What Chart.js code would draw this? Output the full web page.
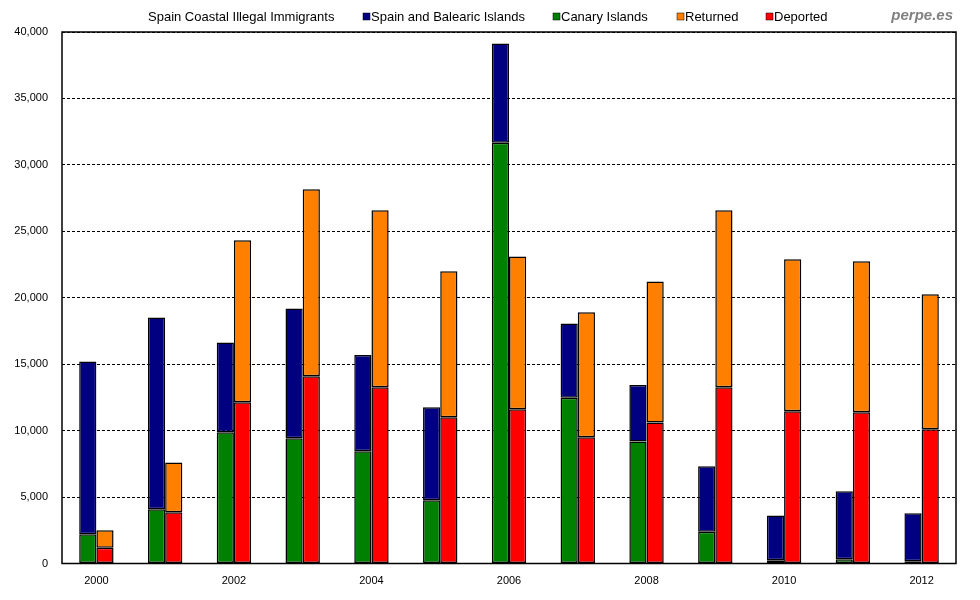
<!DOCTYPE html>
<html>
<head>
<meta charset="utf-8">
<script src="https://cdn.jsdelivr.net/npm/chart.js@4.4.1/dist/chart.umd.min.js"></script>
<style>
  html, body { margin: 0; padding: 0; background: #fff; }
  #wrap { width: 980px; height: 600px; position: relative; }
</style>
</head>
<body>
<div id="wrap"><canvas id="c" width="980" height="600"></canvas></div>
<script>
// ---- Data ----
const years = ['2000','2001','2002','2003','2004','2005','2006','2007','2008','2009','2010','2011','2012'];
const canaryIslands = [2200, 4080, 9870, 9420, 8440, 4760, 31660, 12480, 9190, 2390, 240, 320, 170];
const spainBalearic = [13000, 14440, 6770, 9780, 7250, 6990, 7480, 5590, 4240, 4920, 3380, 5110, 3610];
const deported = [1180, 3850, 12130, 14090, 13260, 11000, 11600, 9500, 10620, 13260, 11450, 11380, 10100];
const returned = [1320, 3760, 12190, 14070, 13320, 10990, 11510, 9400, 10610, 13320, 11440, 11360, 10160];
const yTicks = [0, 5000, 10000, 15000, 20000, 25000, 30000, 35000, 40000];
const chartTitle = 'Spain Coastal Illegal Immigrants';
const watermark = 'perpe.es';

const NAVY = '#000080', GREEN = '#008000', ORANGE = '#FF8000', RED = '#FF0000';

const headerPlugin = {
  id: 'header',
  afterDraw(chart) {
    const ctx = chart.ctx;
    const a = chart.chartArea;
    ctx.save();
    // plot frame
    ctx.strokeStyle = '#000';
    ctx.lineWidth = 1.5;
    ctx.strokeRect(a.left, a.top, a.right - a.left, a.bottom - a.top);
    // title + legend
    ctx.textBaseline = 'alphabetic';
    ctx.textAlign = 'left';
    ctx.font = '13px "Liberation Sans", Arial, sans-serif';
    ctx.fillStyle = '#000';
    ctx.fillText(chartTitle, 148, 21);
    const order = [1, 0, 3, 2];
    const xs = [363, 553, 677, 766];
    order.forEach((di, i) => {
      const ds = chart.data.datasets[di];
      ctx.fillStyle = ds.backgroundColor;
      ctx.fillRect(xs[i], 13, 7, 7);
      ctx.strokeStyle = '#000';
      ctx.lineWidth = 0.5;
      ctx.strokeRect(xs[i], 13, 7, 7);
      ctx.fillStyle = '#000';
      ctx.fillText(ds.label, xs[i] + 8, 21);
    });
    ctx.font = 'italic bold 15px "Liberation Sans", Arial, sans-serif';
    ctx.fillStyle = '#808080';
    ctx.textAlign = 'right';
    ctx.fillText(watermark, 953, 20);
    ctx.restore();
  }
};

new Chart(document.getElementById('c'), {
  type: 'bar',
  data: {
    labels: years,
    datasets: [
      { label: 'Canary Islands', data: canaryIslands, backgroundColor: GREEN, stack: 'arrivals' },
      { label: 'Spain and Balearic Islands', data: spainBalearic, backgroundColor: NAVY, stack: 'arrivals' },
      { label: 'Deported', data: deported, backgroundColor: RED, stack: 'removed' },
      { label: 'Returned', data: returned, backgroundColor: ORANGE, stack: 'removed' }
    ]
  },
  options: {
    responsive: false,
    animation: false,
    devicePixelRatio: 1,
    layout: { padding: { left: 0, right: 24, top: 32, bottom: 0 } },
    datasets: {
      bar: {
        categoryPercentage: 0.5,
        barPercentage: 1.0,
        borderColor: '#000',
        borderWidth: 1.5,
        borderSkipped: false
      }
    },
    plugins: {
      legend: { display: false },
      title: { display: false },
      tooltip: { enabled: false }
    },
    scales: {
      x: {
        stacked: true,
        grid: { display: false, drawTicks: false },
        border: { display: false },
        ticks: {
          autoSkip: false,
          maxRotation: 0,
          padding: 11,
          color: '#000',
          font: { family: '"Liberation Sans", Arial, sans-serif', size: 11 },
          callback: function(v, i) { return (i % 2 === 0) ? this.getLabelForValue(v) : ''; }
        },
        afterFit(scale) { scale.height = 36.5; }
      },
      y: {
        stacked: true,
        min: 0,
        max: 40000,
        afterBuildTicks(scale) { scale.ticks = yTicks.map(v => ({ value: v })); },
        grid: {
          color: '#000',
          lineWidth: 1,
          drawTicks: false
        },
        border: { display: false, dash: [3, 2] },
        ticks: {
          padding: 14,
          color: '#000',
          font: { family: '"Liberation Sans", Arial, sans-serif', size: 11 },
          callback: v => v.toLocaleString('en-US')
        },
        afterFit(scale) { scale.width = 62; }
      }
    }
  },
  plugins: [headerPlugin]
});
</script>
</body>
</html>
